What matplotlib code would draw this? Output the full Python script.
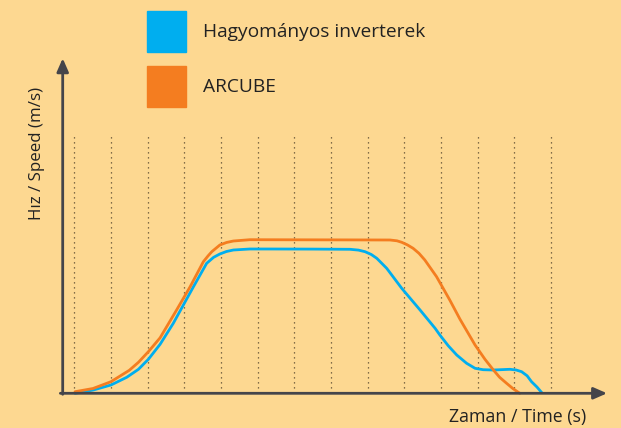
import numpy as np
import matplotlib.pyplot as plt
from matplotlib.patches import Rectangle

# time in grid steps, speed in arbitrary units
blue_t = [1.02, 1.52, 2.0, 2.43, 2.75, 3.02, 3.34, 3.7, 4.0, 4.25, 4.61, 4.8, 4.97, 5.15, 5.34, 5.79,
          6.34, 7.5, 8.52, 8.75, 8.93, 9.1, 9.25, 9.52, 9.93, 10.43, 10.84, 10.97, 11.2, 11.43,
          11.7, 11.93, 12.15, 12.43, 12.88, 13.05, 13.2, 13.35, 13.47, 13.62, 13.75]
blue_v = [0.0, 0.33, 0.83, 1.6, 2.4, 3.4, 4.9, 7.0, 9.0, 10.66, 13.0, 13.6, 13.93, 14.18, 14.33, 14.43,
          14.43, 14.42, 14.4, 14.32, 14.16, 13.88, 13.5, 12.5, 10.5, 8.33, 6.5, 5.83, 4.75, 3.83,
          3.0, 2.5, 2.36, 2.33, 2.4, 2.33, 2.16, 1.75, 1.16, 0.62, 0.06]

orange_t = [1.02, 1.51, 2.0, 2.5, 2.75, 3.02, 3.34, 3.79, 4.16, 4.52, 4.65, 4.75, 4.97, 5.15, 5.34, 5.79,
            7.0, 8.5, 9.61, 9.8, 9.93, 10.08, 10.24, 10.4, 10.56, 10.88, 11.24, 11.52, 11.93, 12.2,
            12.43, 12.6, 12.79, 12.97, 13.15]
orange_v = [0.16, 0.48, 1.16, 2.3, 3.1, 4.16, 5.55, 8.33, 10.66, 13.16, 13.75, 14.16, 14.83, 15.08, 15.23, 15.36,
            15.35, 15.34, 15.33, 15.25, 15.1, 14.85, 14.5, 14.0, 13.33, 11.66, 9.33, 7.4, 4.83, 3.4,
            2.33, 1.6, 1.0, 0.45, 0.0]

grid_t = np.arange(1, 15)
grid_top = 26.0

series_names = ["Hagyományos inverterek", "ARCUBE"]
series_colors = ["#00AEEF", "#F47D20"]

bg = "#FDD891"
axis_col = "#45454A"
text_col = "#222222"

fig = plt.figure(figsize=(6.21, 4.28), dpi=100, facecolor=bg)
ax = fig.add_axes([0, 0, 1, 1])
ax.set_facecolor(bg)
ax.set_xlim(-1.026, 15.91)
ax.set_ylim(-3.47, 39.33)
ax.axis("off")

# dotted guides
for t in grid_t:
    ax.plot([t, t], [0, grid_top], color="#5a4a30", lw=0.9, ls=(0, (1, 3)), zorder=1)

ax.plot(blue_t, blue_v, color=series_colors[0], lw=2.0, zorder=3,
        solid_capstyle="round", solid_joinstyle="round")
ax.plot(orange_t, orange_v, color=series_colors[1], lw=2.0, zorder=4,
        solid_capstyle="round", solid_joinstyle="round")

# axes with arrows
arrow = dict(arrowstyle="-|>,head_length=0.8,head_width=0.35", color=axis_col, lw=2.0,
             shrinkA=0, shrinkB=0)
ax.annotate("", xy=(15.53, 0), xytext=(0.62, 0), arrowprops=arrow, zorder=5)
ax.annotate("", xy=(0.684, 33.5), xytext=(0.684, -0.1), arrowprops=arrow, zorder=5)

font = "Open Sans"
ax.text(14.95, -2.4, "Zaman / Time (s)", fontsize=12.8, family=font, color=text_col,
        ha="right", va="center")
ax.text(-0.03, 24.0, "Hız / Speed (m/s)", fontsize=12.2, family=font, color=text_col,
        rotation=90, ha="center", va="center")

# legend boxes
leg_y = [0.926, 0.797]
for name, col, yy in zip(series_names, series_colors, leg_y):
    fig.patches.append(Rectangle((147 / 621, yy - 20.5 / 428), 39 / 621, 41 / 428,
                                 transform=fig.transFigure, color=col))
    fig.text(203 / 621, yy, name, fontsize=13.8, family=font, color=text_col, va="center")

fig.savefig("out.png", dpi=100, facecolor=bg)
